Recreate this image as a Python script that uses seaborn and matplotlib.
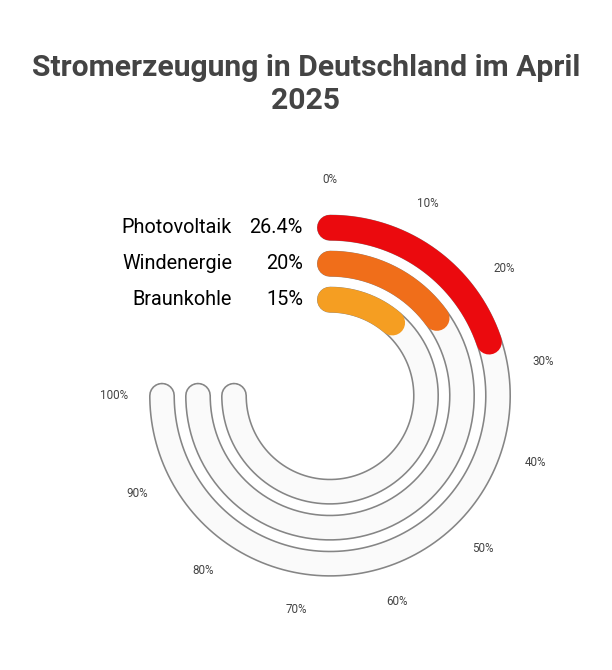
import numpy as np
import seaborn as sns
import matplotlib.pyplot as plt

# data
categories = ["Photovoltaik", "Windenergie", "Braunkohle"]
values = [26.4, 20, 15]
value_labels = ["26.4%", "20%", "15%"]
colors = ["#EB0A0E", "#F06E1A", "#F59E22"]
tick_values = [0, 10, 20, 30, 40, 50, 60, 70, 80, 90, 100]
tick_labels = [f"{v}%" for v in tick_values]

sns.set_theme(style="white")
plt.rcParams["font.family"] = ["Roboto", "DejaVu Sans"]

W, H, DPI = 612, 670, 100
fig = plt.figure(figsize=(W / DPI, H / DPI), dpi=DPI)

# polar axes, one data unit = one pixel
cx, cy, R = 330, 670 - 395.7, 222
ax = fig.add_axes([(cx - R) / W, (cy - R) / H, 2 * R / W, 2 * R / H], projection="polar")
ax.set_theta_zero_location("N")
ax.set_theta_direction(-1)
ax.set_ylim(0, R)
ax.axis("off")

full_angle = np.deg2rad(270)
radii = [168, 132, 96]
px = 72 / DPI  # pixels -> points

def arc(frac):
    return np.linspace(0, full_angle * frac, 300)

for cat, val, col, r in zip(categories, values, colors, radii):
    t = arc(1.0)
    ax.plot(t, np.full_like(t, r), color="#858585", lw=26 * px, solid_capstyle="round", zorder=1)
    ax.plot(t, np.full_like(t, r), color="#fafafa", lw=22.8 * px, solid_capstyle="round", zorder=2)
    tb = arc(val / 100)
    ax.plot(tb, np.full_like(tb, r), color=col, lw=25.5 * px, solid_capstyle="round", zorder=3)

# percentage ticks around the outside
for v, lab in zip(tick_values, tick_labels):
    ax.text(full_angle * v / 100, 216, lab, ha="center", va="center",
            fontsize=8.4, color="#444444", clip_on=False)

# category labels
for cat, lab, r in zip(categories, value_labels, radii):
    y = (cy + r) / H
    fig.text(232 / W, y, cat, ha="right", va="center", fontsize=14.3, color="#000000")
    fig.text(303 / W, y, lab, ha="right", va="center", fontsize=14.3, color="#000000")

fig.text(0.5, (670 - 68) / H, "Stromerzeugung in Deutschland im April", ha="center", va="center",
         fontsize=21.7, fontweight="bold", color="#444444")
fig.text(0.5, (670 - 101) / H, "2025", ha="center", va="center",
         fontsize=21.7, fontweight="bold", color="#444444")

fig.savefig("out.png", dpi=DPI, facecolor="white")
